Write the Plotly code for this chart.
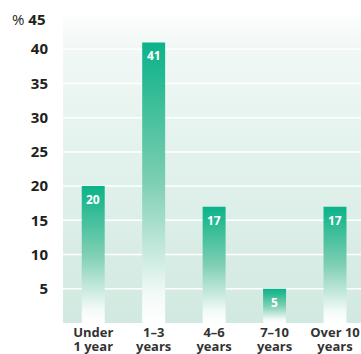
import plotly.graph_objects as go

# Share of respondents by length of time (percent)
label_line1 = ["Under", "1–3", "4–6", "7–10", "Over 10"]
label_line2 = ["1 year", "years", "years", "years", "years"]
shares = [20, 41, 17, 5, 17]
y_ticks = [5, 10, 15, 20, 25, 30, 35, 40]
y_top = 45

FONT = "Open Sans"
INK = "#231f20"
x_range = [-0.5, 4.43]
half_w = 0.19
positions = list(range(len(shares)))

fig = go.Figure()

# plot-area wash: light teal at the base fading to white at the top
fig.add_trace(go.Scatter(
    x=[x_range[0], x_range[1], x_range[1], x_range[0], x_range[0]],
    y=[0, 0, y_top, y_top, 0],
    mode="none", fill="toself",
    fillgradient=dict(type="vertical",
                      colorscale=[[0, "#d1e9e0"], [0.5, "#e1f1eb"],
                                  [0.9, "#f1f8f5"], [1, "#fcfefd"]]),
    hoverinfo="skip", showlegend=False))

# white gridlines, kept behind the bars
gx, gy = [], []
for t in y_ticks:
    gx += [x_range[0], x_range[1], None]
    gy += [t, t, None]
fig.add_trace(go.Scatter(x=gx, y=gy, mode="lines",
                         line=dict(color="white", width=1.5),
                         hoverinfo="skip", showlegend=False))

# bars with a white-to-teal vertical gradient
bar_scale = [[0, "#ffffff"], [0.1, "#f3faf7"], [0.5, "#7ecfb3"],
             [0.85, "#2cba93"], [1, "#0bb38a"]]
for i, v in zip(positions, shares):
    fig.add_trace(go.Scatter(
        x=[i - half_w, i + half_w, i + half_w, i - half_w, i - half_w],
        y=[0, 0, v, v, 0],
        mode="none", fill="toself",
        fillgradient=dict(type="vertical", colorscale=bar_scale),
        hoverinfo="skip", showlegend=False))
    fig.add_annotation(x=i, y=v, text=str(v), showarrow=False,
                       yanchor="top", yshift=-3,
                       font=dict(family=FONT, size=12, color="white", weight="bold"))

# invisible carrier so the second row of category labels is drawn
fig.add_trace(go.Scatter(x=positions, y=shares, xaxis="x2", mode="markers",
                         marker=dict(size=1, opacity=0),
                         hoverinfo="skip", showlegend=False))

# top of the value axis, with the unit sign
fig.add_annotation(xref="paper", x=0, xanchor="right", xshift=-16,
                   yref="y", y=y_top, yshift=-4, showarrow=False,
                   text="<span style='font-weight:400'>%</span> " + str(y_top),
                   font=dict(family=FONT, size=15, color=INK, weight="bold"))

tick_font = dict(family=FONT, size=13, color="#333333", weight="bold")
fig.update_layout(
    width=361, height=354,
    margin=dict(l=63, r=0, t=15, b=31),
    paper_bgcolor="white", plot_bgcolor="white",
    xaxis=dict(range=x_range, tickvals=positions, ticktext=label_line1,
               showgrid=False, zeroline=False, ticks="", showline=False,
               tickfont=tick_font, ticklabelstandoff=0, automargin=False),
    xaxis2=dict(range=x_range, tickvals=positions, ticktext=label_line2,
                overlaying="x", anchor="y", side="bottom", matches="x",
                showgrid=False, zeroline=False, ticks="", showline=False,
                tickfont=tick_font, ticklabelstandoff=14, automargin=False),
    yaxis=dict(range=[0, y_top], tickvals=y_ticks,
               showgrid=False, zeroline=False, ticks="", showline=False,
               tickfont=dict(family=FONT, size=15, color=INK, weight="bold"),
               ticklabelstandoff=14, automargin=False),
    showlegend=False,
)

fig.write_html("out.html")
